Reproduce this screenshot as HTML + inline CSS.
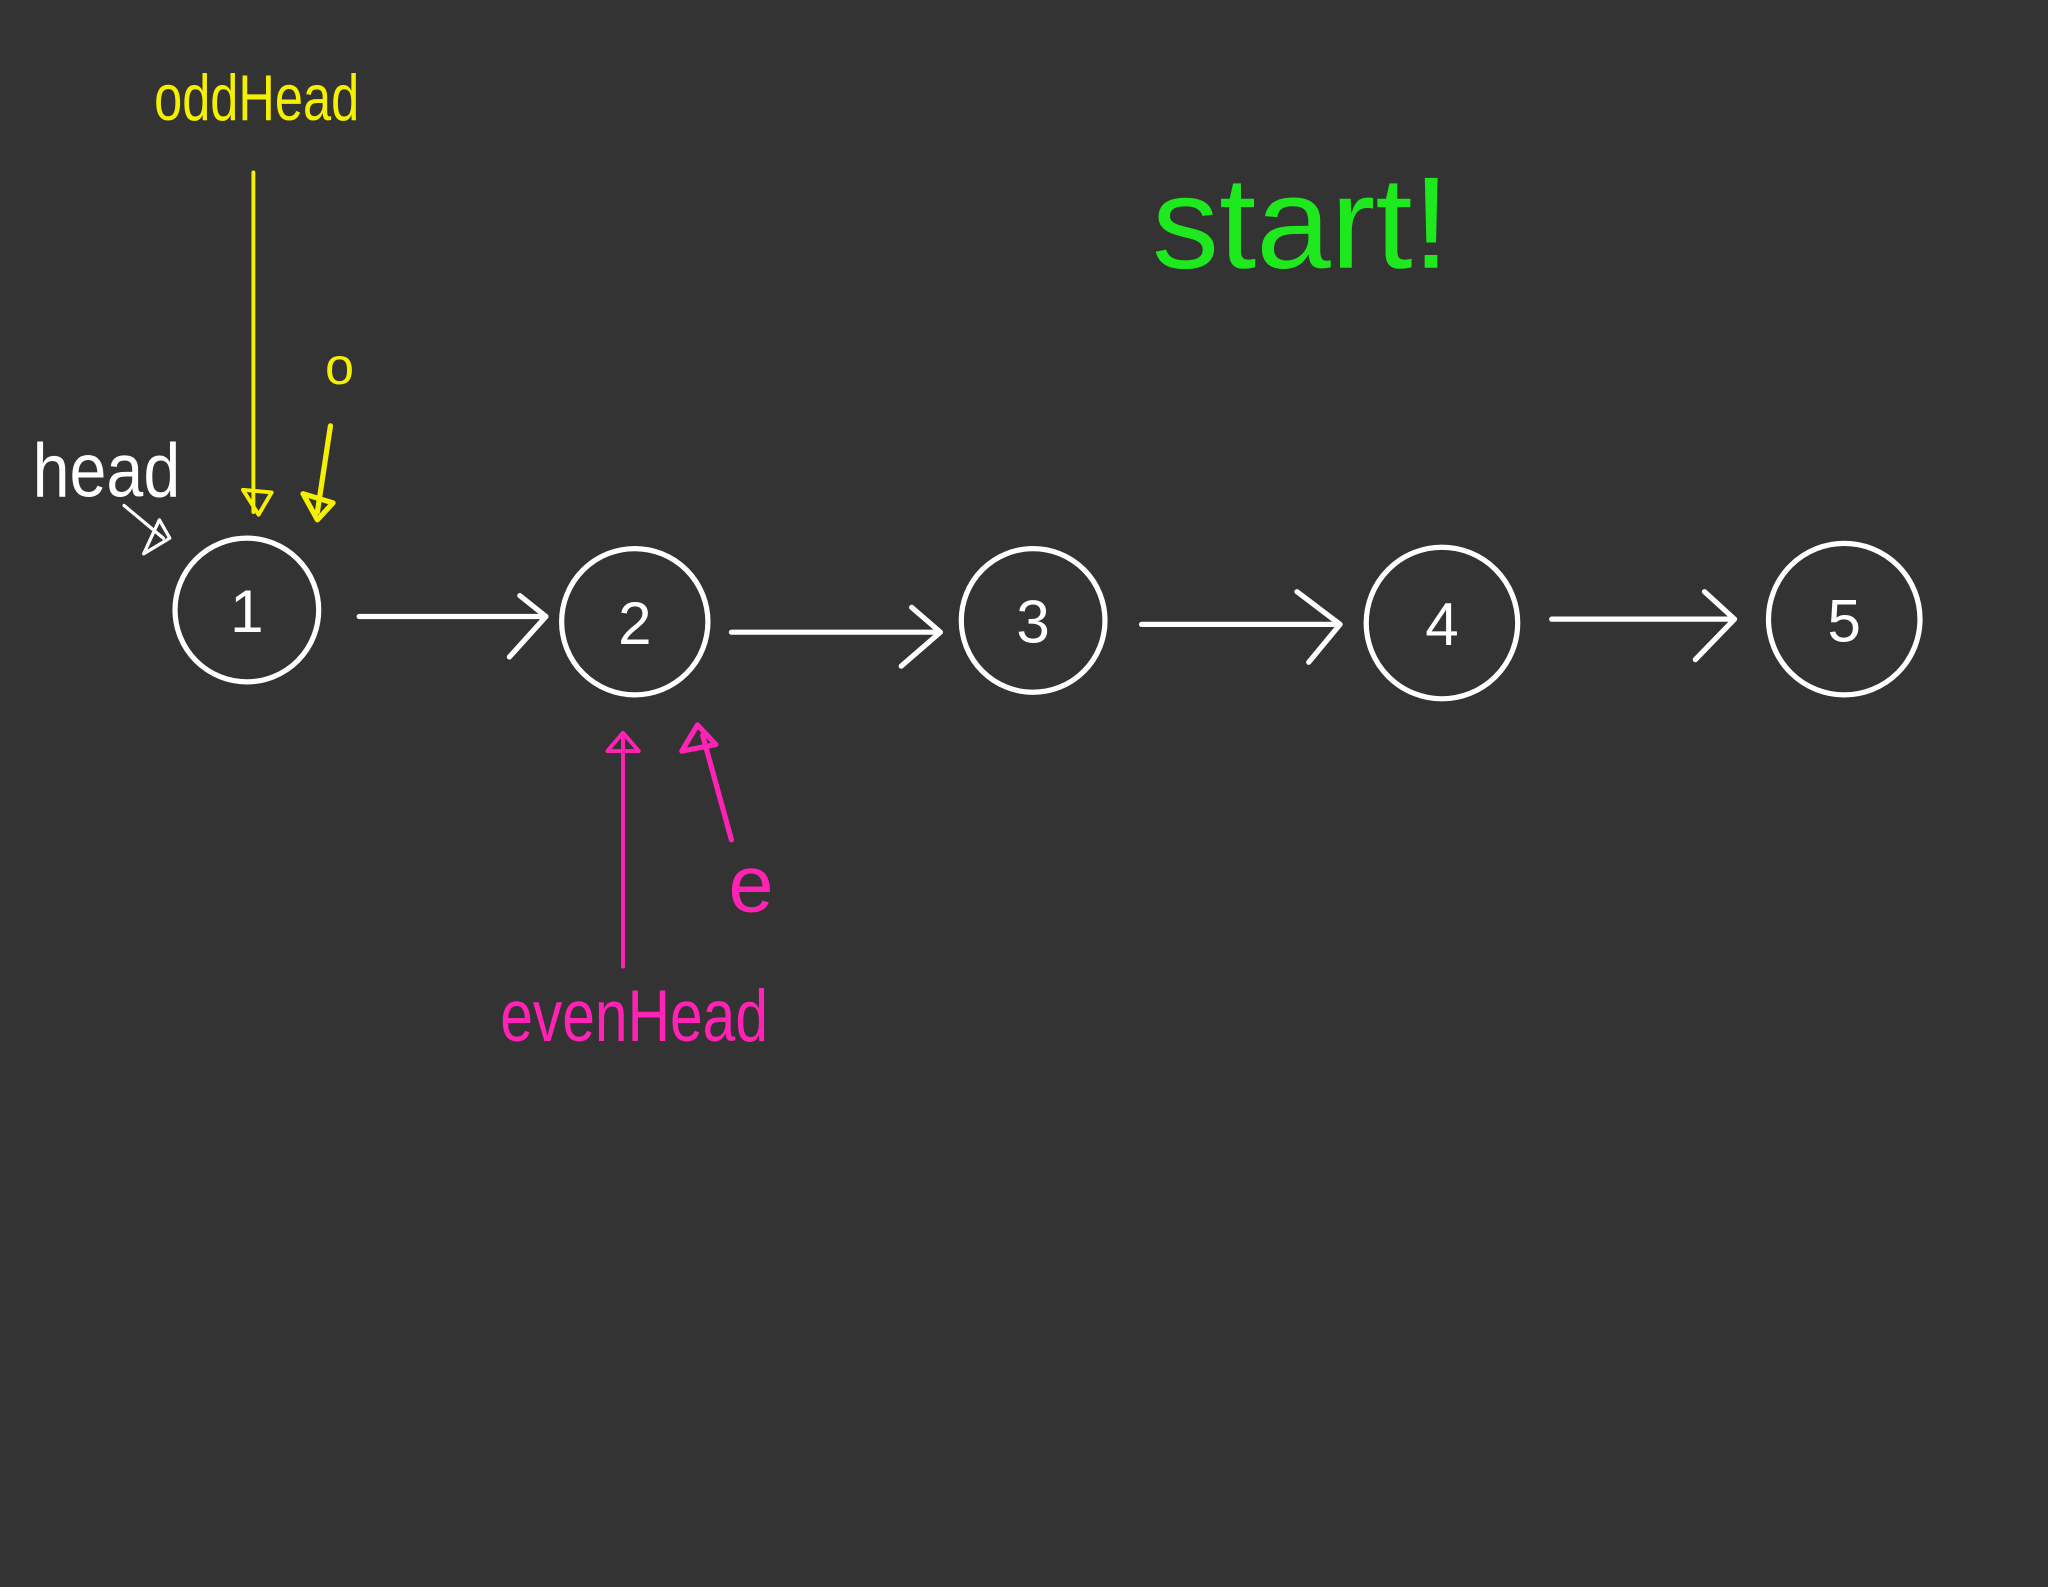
<!DOCTYPE html>
<html><head><meta charset="utf-8"><style>
html,body{margin:0;padding:0;background:#333333;}
svg{display:block;}
text{font-family:"Liberation Sans",sans-serif;}
</style></head><body>
<svg width="2048" height="1587" viewBox="0 0 1568 1215" xmlns="http://www.w3.org/2000/svg">
<rect width="1568" height="1215" fill="#333333"/>
<g fill="none" stroke="#ffffff" stroke-width="4" stroke-linecap="round" stroke-linejoin="round">
<circle cx="189" cy="467" r="55"/>
<circle cx="486" cy="476" r="56"/>
<circle cx="791" cy="475" r="55"/>
<circle cx="1104" cy="477" r="58"/>
<circle cx="1412" cy="474" r="58"/>
<path d="M275 472 L418 472 M398 456 L418 472 L390 503"/>
<path d="M560 484 L720 484 M698 465 L720 484 L690 510"/>
<path d="M874 478 L1026 478 M993 453 L1026 478 L1002 507"/>
<path d="M1188 474 L1328 474 M1305 453 L1328 474 L1298 505"/>
<path d="M95 387 L125 412 M110 424 L130 412 L122 398 Z" stroke-width="2.5"/>
</g>
<g fill="#ffffff" font-size="46" text-anchor="middle">
<text x="189" y="484">1</text>
<text x="486" y="493">2</text>
<text x="791" y="492">3</text>
<text x="1104" y="494">4</text>
<text x="1412" y="491">5</text>
</g>
<text x="25" y="380" font-size="58" fill="#ffffff" textLength="113" lengthAdjust="spacingAndGlyphs">head</text>
<g fill="none" stroke="#f5f000" stroke-width="3" stroke-linecap="round" stroke-linejoin="round">
<path d="M194 132 L194 392 M186 375 L198 394 L208 377 Z"/>
<path d="M253 326 L243 392 M232 378 L243 398 L255 385 Z" stroke-width="4"/>
</g>
<text x="118" y="92" font-size="50" fill="#f5f000" textLength="157" lengthAdjust="spacingAndGlyphs">oddHead</text>
<text x="260" y="294" font-size="40" fill="#f5f000" text-anchor="middle">o</text>
<g fill="none" stroke="#ff22b4" stroke-width="3" stroke-linecap="round" stroke-linejoin="round">
<path d="M477 740 L477 565 M465 575 L477 561 L489 575 Z"/>
<path d="M560 643 L538 563 M522 575 L534 555 L548 570 Z" stroke-width="4"/>
</g>
<text x="383" y="797" font-size="56" fill="#ff22b4" textLength="205" lengthAdjust="spacingAndGlyphs">evenHead</text>
<text x="575" y="698" font-size="62" fill="#ff22b4" text-anchor="middle">e</text>
<text x="882" y="205" fill="#1ee81e" font-size="100" textLength="228" lengthAdjust="spacingAndGlyphs">start!</text>
</svg>
</body></html>
